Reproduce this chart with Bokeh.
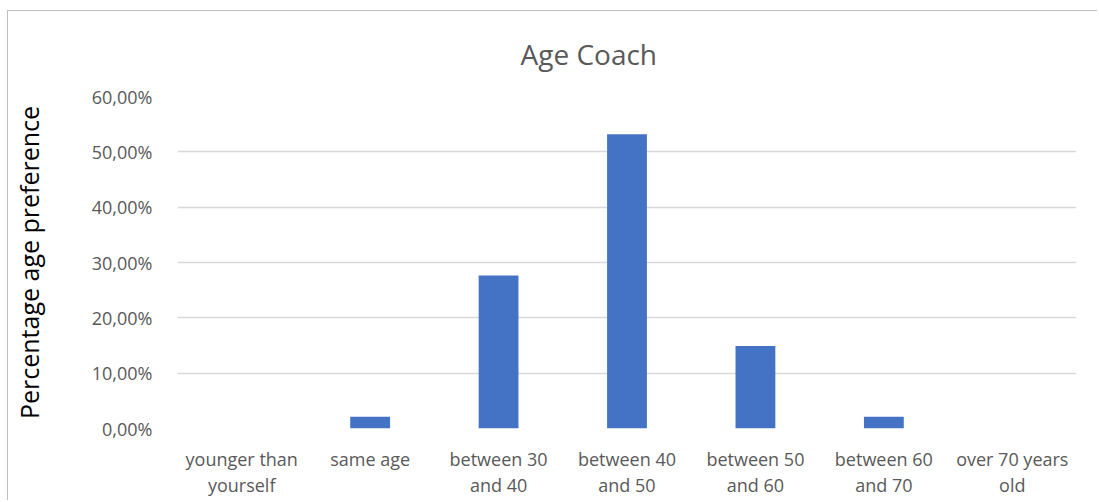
from bokeh.plotting import figure
from bokeh.models import ColumnDataSource, Range1d, FixedTicker
from bokeh.embed import file_html
from bokeh.resources import INLINE

# ---- data ----
categories = ["younger than yourself", "same age", "between 30 and 40",
              "between 40 and 50", "between 50 and 60", "between 60 and 70",
              "over 70 years old"]
category_labels = ["younger than\nyourself", "same age", "between 30\nand 40",
                   "between 40\nand 50", "between 50\nand 60", "between 60\nand 70",
                   "over 70 years\nold"]
values = [0.0, 0.0213, 0.2766, 0.5319, 0.1489, 0.0213, 0.0]
y_ticks = [0.0, 0.1, 0.2, 0.3, 0.4, 0.5, 0.6]
y_tick_labels = ["0,00%", "10,00%", "20,00%", "30,00%", "40,00%", "50,00%", "60,00%"]
title_text = "Age Coach"
y_label = "Percentage age preference"

FONT = "Open Sans"
GRAY = "#595959"

# category slot centres on a numeric axis (one unit per category)
xpos = [i + 0.5 for i in range(len(categories))]

source = ColumnDataSource(data=dict(x=xpos, cat=categories, val=values))

p = figure(x_range=Range1d(0, len(categories)), y_range=Range1d(0, 0.6),
           width=1090, height=490, output_backend="svg", toolbar_location=None,
           min_border_left=166, min_border_right=22, min_border_top=85,
           min_border_bottom=73, outline_line_color=None,
           margin=(10, 0, 0, 7),
           styles={"border-top": "1px solid #bfbfbf", "border-left": "1px solid #bfbfbf"})

p.vbar(x="x", top="val", width=0.31, source=source,
       fill_color="#4472C4", line_color=None)

p.title.text = title_text
p.title.align = "left"
p.title.offset = 343
p.title.vertical_align = "top"
p.title.text_font = FONT
p.title.text_font_size = "28px"
p.title.text_font_style = "normal"
p.title.text_color = GRAY
p.title.standoff = 44

# y axis
p.yaxis.ticker = FixedTicker(ticks=y_ticks)
p.yaxis.major_label_overrides = {t: l for t, l in zip(y_ticks, y_tick_labels)}
p.yaxis.axis_line_color = None
p.yaxis.major_tick_line_color = None
p.yaxis.minor_tick_line_color = None
p.yaxis.major_label_standoff = 19
p.yaxis.major_label_text_font = FONT
p.yaxis.major_label_text_font_size = "18px"
p.yaxis.major_label_text_color = GRAY
p.yaxis.axis_label = y_label
p.yaxis.axis_label_text_font = FONT
p.yaxis.axis_label_text_font_size = "25px"
p.yaxis.axis_label_text_font_style = "normal"
p.yaxis.axis_label_text_color = "#000000"
p.yaxis.axis_label_standoff = 43

# x axis
p.xaxis.ticker = FixedTicker(ticks=xpos)
p.xaxis.major_label_overrides = {x: l for x, l in zip(xpos, category_labels)}
p.xaxis.axis_line_color = None
p.xaxis.major_tick_line_color = None
p.xaxis.minor_tick_line_color = None
p.xaxis.major_label_standoff = 12
p.xaxis.major_label_text_font = FONT
p.xaxis.major_label_text_font_size = "18px"
p.xaxis.major_label_text_color = GRAY
p.xaxis.major_label_text_line_height = 1.1

# grid
p.xgrid.grid_line_color = None
p.ygrid.grid_line_color = "#d9d9d9"
p.ygrid.grid_line_width = 1.3

open("out.html", "w").write(file_html(p, INLINE))
